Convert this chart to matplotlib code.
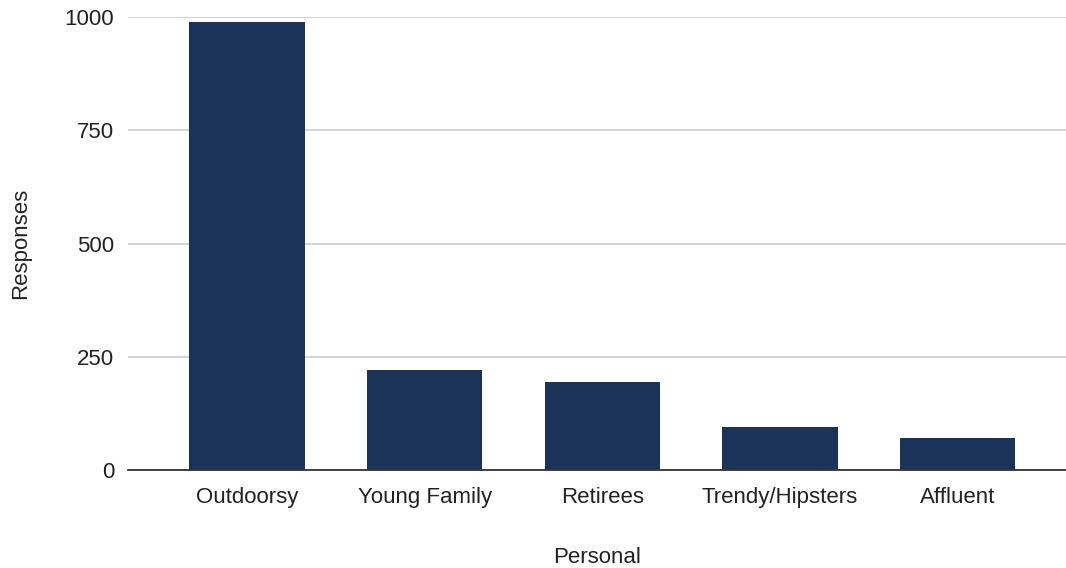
import matplotlib.pyplot as plt

categories = ["Outdoorsy", "Young Family", "Retirees", "Trendy/Hipsters", "Affluent"]
responses = [989, 221, 195, 95, 71]
yticks = [0, 250, 500, 750, 1000]

plt.rcParams['font.family'] = ['Liberation Sans', 'DejaVu Sans']

fig = plt.figure(figsize=(10.66, 5.68), dpi=100)
ax = fig.add_axes([0.12, 0.1725, 0.88, 0.7975])

ax.bar(range(len(categories)), responses, width=0.65, color="#1b3259", zorder=3)

ax.set_xlim(-0.67, 4.61)
ax.set_ylim(0, 1000)
ax.set_yticks(yticks)
ax.set_xticks(range(len(categories)))
ax.set_xticklabels(categories)
ax.grid(axis="y", color="#cccccc", linewidth=1.2, zorder=0)
for s in ["top", "right", "left"]:
    ax.spines[s].set_visible(False)
ax.spines["bottom"].set_color("#333333")
ax.spines["bottom"].set_linewidth(1.3)
ax.spines["bottom"].set_zorder(4)
ax.tick_params(axis="both", length=0, labelsize=16, colors="#222222")
ax.tick_params(axis="x", pad=12)
ax.tick_params(axis="y", pad=10)
ax.set_xlabel("Personal", fontsize=16, color="#222222", labelpad=28)
ax.set_ylabel("Responses", fontsize=16, color="#222222", labelpad=24)

plt.savefig("out.png", dpi=100)
